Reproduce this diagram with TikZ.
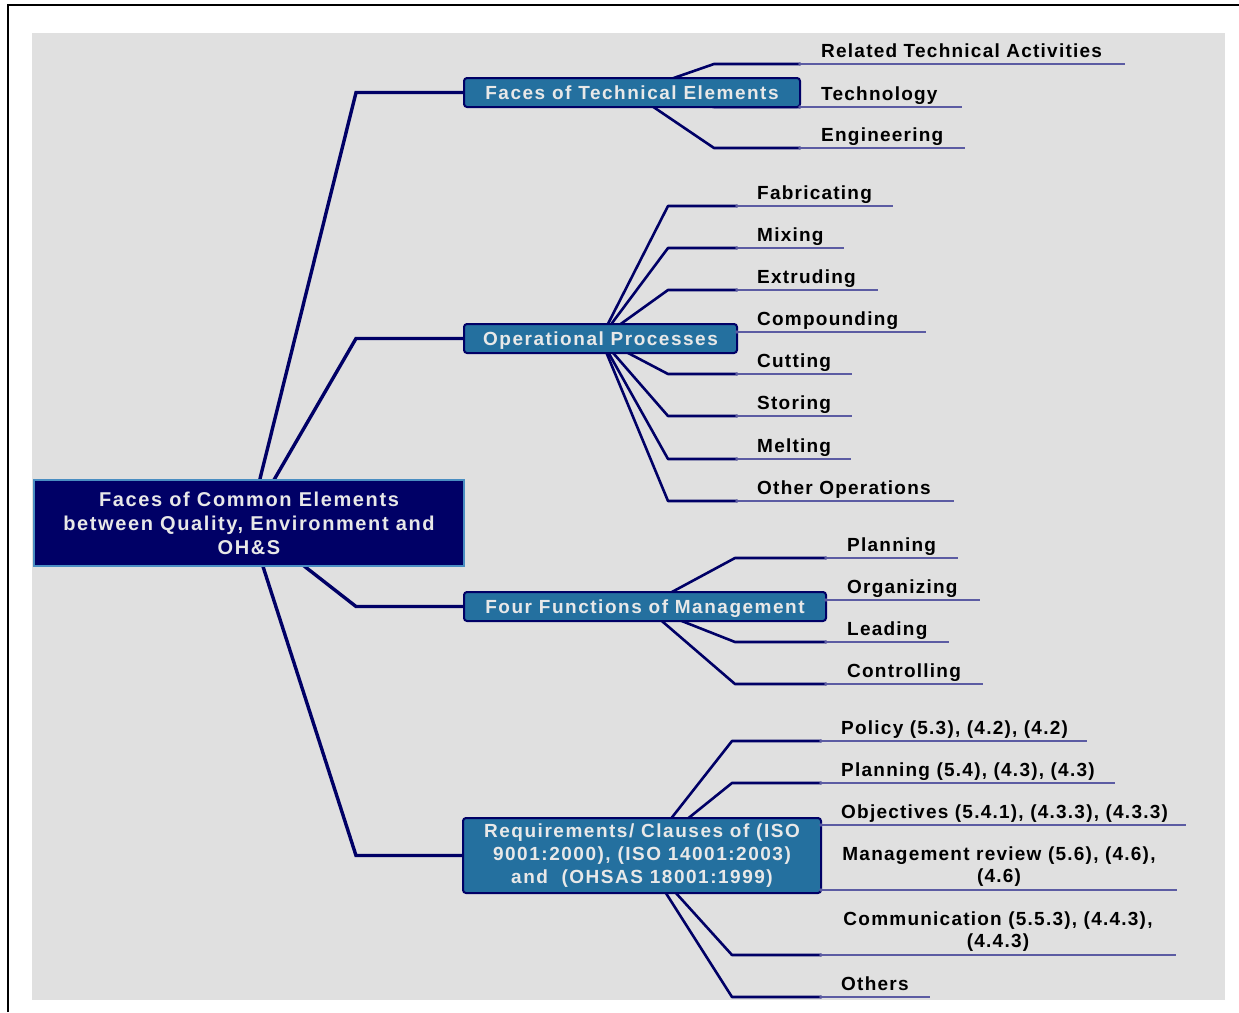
\documentclass[tikz,border=0pt]{standalone}
\usepackage{fontspec}
\newfontfamily\mapfont[LetterSpace=6.5]{Liberation Sans}
\newfontfamily\boxfont[LetterSpace=8]{Liberation Sans}
\pgfdeclarelayer{paper}
\pgfdeclarelayer{wires}
\pgfsetlayers{paper,wires,main}
\definecolor{navy}{HTML}{000066}
\definecolor{papergray}{HTML}{E0E0E0}
\definecolor{topicblue}{HTML}{24709F}
\definecolor{hubedge}{HTML}{4A8EC2}
\definecolor{topictext}{HTML}{E8E8E8}
\definecolor{uline}{HTML}{5C5CA3}
\begin{document}
\begin{tikzpicture}[x=1pt,y=-1pt,
  every node/.style={font=\mapfont\bfseries\fontsize{19}{22.8}\selectfont},
  hubbox/.style={draw=hubedge, line width=1.5pt, fill=navy, text=topictext,
    minimum width=430pt, minimum height=86pt, align=center, inner sep=0pt,
    font=\boxfont\bfseries\fontsize{20}{24}\selectfont},
  topicbox/.style={draw=navy, line width=2pt, rounded corners=3pt, fill=topicblue,
    text=topictext, inner sep=0pt, text height=13.7pt, text depth=0pt,
    font=\boxfont\bfseries\fontsize{19}{22.8}\selectfont},
  leaftext/.style={anchor=base west, inner sep=0pt, text=black},
  leafpair/.style={anchor=south, inner sep=0pt, text=black, align=center},
  mainwire/.style={draw=navy, line width=3.4pt},
  subwire/.style={draw=navy, line width=2.6pt, line join=round},
  underrule/.style={draw=uline, line width=1.3pt},
  knot/.style={circle, fill=uline, inner sep=0pt, minimum size=3.8pt}
]
\useasboundingbox (0,0) rectangle (1239,1012);

% sheet and frame
\begin{pgfonlayer}{paper}
  \fill[papergray] (32,33) rectangle (1225,1000);
  \draw[black, line width=2pt] (7.5,1012) -- (7.5,5) -- (1239,5);
\end{pgfonlayer}

% central topic
\node[hubbox] (hub) at (249,523)
  {Faces of Common Elements\\between Quality, Environment and\\OH\&S};

% main topics
\node[topicbox, minimum width=336pt, minimum height=29pt] (tech) at (632,92.5)
  {Faces of Technical Elements};
\node[topicbox, minimum width=273pt, minimum height=29pt] (oper) at (600.5,338.5)
  {Operational Processes};
\node[topicbox, minimum width=362pt, minimum height=29pt] (mgmt) at (645,606.5)
  {Four Functions of Management};
\node[topicbox, minimum width=358pt, minimum height=75pt, align=center,
  text height=, text depth=] (reqs) at (642,855.5)
  {Requirements/ Clauses of (ISO\\9001:2000), (ISO 14001:2003)\\and~ (OHSAS 18001:1999)};

% connectors from the central topic, bending on one vertical
\coordinate (bend) at (356,0);
\begin{pgfonlayer}{wires}
  \foreach \t in {tech,oper,mgmt,reqs}
    \draw[mainwire] (hub.center) -- (bend |- \t.west) -- (\t.west);
\end{pgfonlayer}

% technical elements
\foreach \i/\y/\e/\t in {1/64/1125/Related Technical Activities,
                         2/107/962/Technology,
                         3/148/965/Engineering}{
  \coordinate (tech-\i) at (800,\y);
  \begin{pgfonlayer}{wires}
    \draw[subwire] (tech.center) -- (714,\y) -- (tech-\i);
  \end{pgfonlayer}
  \draw[underrule] (tech-\i) -- (\e,\y);
  \node[knot] at (tech-\i) {};
  \node[leaftext] (tech-\i-t) at (821,\y-7) {\t};
}

% operational processes
\foreach \i/\y/\e/\t in {1/206/893/Fabricating, 2/248/844/Mixing,
                         3/290/878/Extruding, 4/332/926/Compounding,
                         5/374/852/Cutting, 6/416/852/Storing,
                         7/459/851/Melting, 8/501/954/Other Operations}{
  \coordinate (oper-\i) at (737,\y);
  \begin{pgfonlayer}{wires}
    \draw[subwire] (oper.center) -- (668,\y) -- (oper-\i);
  \end{pgfonlayer}
  \draw[underrule] (oper-\i) -- (\e,\y);
  \node[knot] at (oper-\i) {};
  \node[leaftext] (oper-\i-t) at (757,\y-7) {\t};
}

% functions of management
\foreach \i/\y/\e/\t in {1/558/958/Planning, 2/600/980/Organizing,
                         3/642/949/Leading, 4/684/983/Controlling}{
  \coordinate (mgmt-\i) at (826,\y);
  \begin{pgfonlayer}{wires}
    \draw[subwire] (mgmt.center) -- (735,\y) -- (mgmt-\i);
  \end{pgfonlayer}
  \draw[underrule] (mgmt-\i) -- (\e,\y);
  \node[knot] at (mgmt-\i) {};
  \node[leaftext] (mgmt-\i-t) at (847,\y-7) {\t};
}

% requirements / clauses
\foreach \i/\y/\e in {1/741/1087, 2/783/1115, 3/825/1186,
                      4/890/1177, 5/955/1176, 6/997/930}{
  \coordinate (reqs-\i) at (821,\y);
  \begin{pgfonlayer}{wires}
    \draw[subwire] (reqs.center) -- (732,\y) -- (reqs-\i);
  \end{pgfonlayer}
  \draw[underrule] (reqs-\i) -- (\e,\y);
  \node[knot] at (reqs-\i) {};
}
\node[leaftext] (reqs-1-t) at (841,734) {Policy (5.3), (4.2), (4.2)};
\node[leaftext] (reqs-2-t) at (841,776) {Planning (5.4), (4.3), (4.3)};
\node[leaftext] (reqs-3-t) at (841,818) {Objectives (5.4.1), (4.3.3), (4.3.3)};
\node[leafpair] (reqs-4-t) at (999,887) {Management review (5.6), (4.6),\\(4.6)};
\node[leafpair] (reqs-5-t) at (998,952) {Communication (5.5.3), (4.4.3),\\(4.4.3)};
\node[leaftext] (reqs-6-t) at (841,990) {Others};
\end{tikzpicture}
\end{document}
